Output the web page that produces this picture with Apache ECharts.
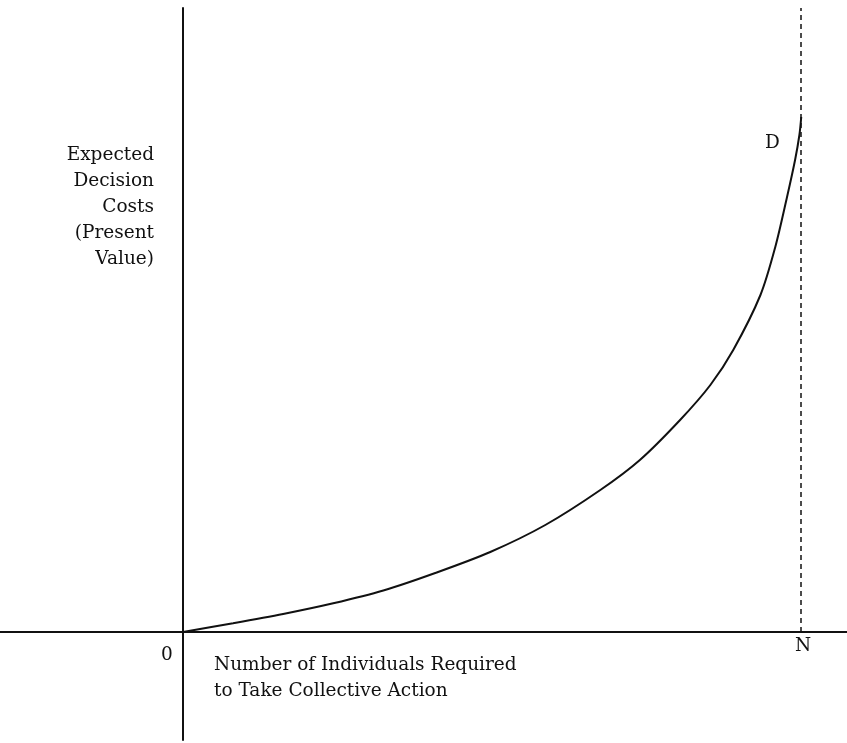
<!DOCTYPE html>
<html>
<head>
<meta charset="utf-8">
<script src="https://cdn.jsdelivr.net/npm/echarts@6/dist/echarts.min.js"></script>
<style>
  html, body { margin: 0; padding: 0; background: #fff; }
  #chart { width: 847px; height: 743px; }
</style>
</head>
<body>
<div id="chart"></div>
<script>
// individuals required (0 .. N = 100)
const individuals = [0, 8.1, 16.2, 24.3, 32.4, 40.8, 49.7, 58.6, 67.5, 73.9, 80.4, 85.3, 89.0, 93.4, 95.8, 97.7, 99.0, 99.7, 100];
// expected decision costs (arbitrary units)
const decisionCosts = [0, 8.7, 18, 28.7, 41.5, 59, 80, 107, 142, 172, 212, 247, 282, 337, 385, 435, 472, 497, 515];
const N = 100;
const yLabelLines = ['Expected', 'Decision', 'Costs', '(Present', 'Value)'];
const xLabelLines = ['Number of Individuals Required', 'to Take Collective Action'];

const font = '"DejaVu Serif", "Liberation Serif", serif';
const ink = '#111';

let myChart = echarts.init(document.getElementById('chart'));

// y-axis title, right aligned, one text per line
let yTitle = yLabelLines.map((t, i) => ({
  type: 'text',
  x: 154,
  y: 155 + i * 26,
  style: {
    text: t, align: 'right', textAlign: 'right',
    verticalAlign: 'middle', textVerticalAlign: 'middle',
    font: '18.5px ' + font, fill: ink
  }
}));

let option = {
  animation: false,
  backgroundColor: '#fff',
  grid: { left: 0, right: 0, top: 8, bottom: 3 },
  xAxis: {
    type: 'value',
    min: -29.6,
    max: 107.4,
    axisLine: { onZero: true, lineStyle: { color: ink, width: 2 } },
    axisTick: { show: false },
    axisLabel: { show: false },
    splitLine: { show: false }
  },
  yAxis: {
    type: 'value',
    min: -108,
    max: 624,
    axisLine: { show: true, onZero: true, lineStyle: { color: ink, width: 2 } },
    axisTick: { show: false },
    axisLabel: { show: false },
    splitLine: { show: false }
  },
  series: [
    {
      type: 'line',
      data: individuals.map((x, i) => [x, decisionCosts[i]]),
      smooth: 0.3,
      showSymbol: false,
      lineStyle: { color: ink, width: 2 },
      markLine: {
        silent: true,
        symbol: 'none',
        label: { show: false },
        lineStyle: { color: ink, width: 1.5, type: [5, 4] },
        data: [[{ coord: [N, 0] }, { coord: [N, 624] }]]
      }
    }
  ],
  graphic: yTitle.concat([
    {
      type: 'text', left: 214, top: 652,
      style: {
        text: xLabelLines.join('\n'), lineHeight: 26,
        font: '18.5px ' + font, fill: ink
      }
    },
    {
      type: 'text', left: 161, top: 646,
      style: { text: '0', font: '18.5px ' + font, fill: ink }
    },
    {
      type: 'text', left: 795, top: 637,
      style: { text: 'N', font: '18.5px ' + font, fill: ink }
    },
    {
      type: 'text', left: 765, top: 134,
      style: { text: 'D', font: '18.5px ' + font, fill: ink }
    }
  ])
};

myChart.setOption(option);
</script>
</body>
</html>
